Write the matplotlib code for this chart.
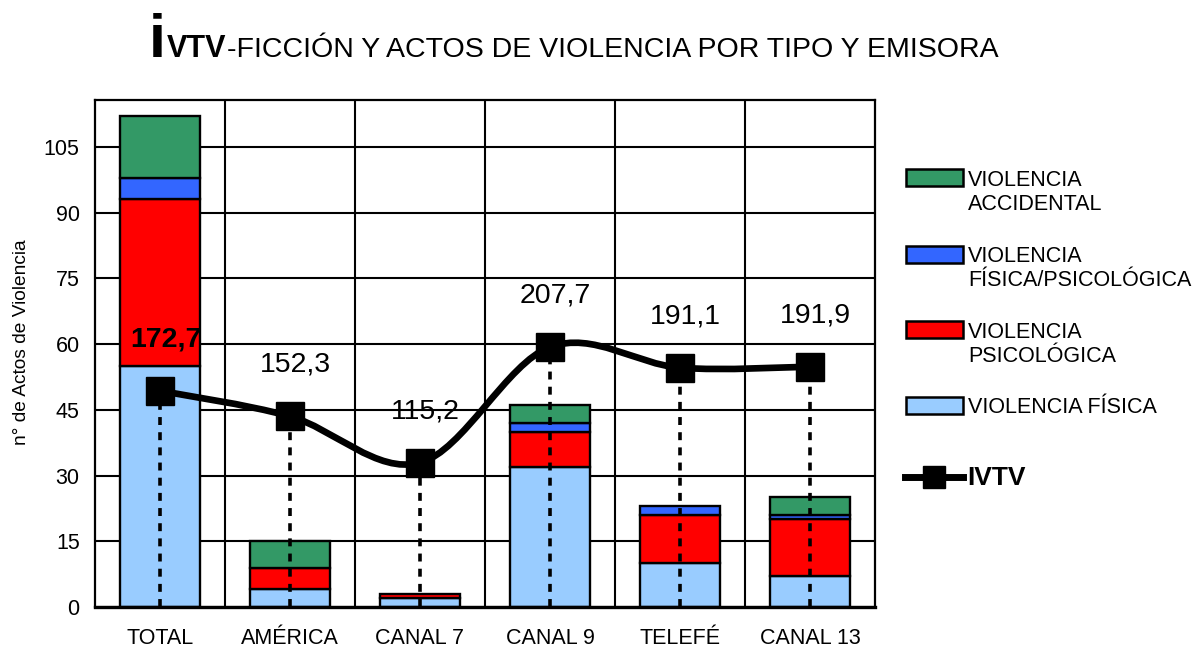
import matplotlib
matplotlib.use("Agg")
import matplotlib.pyplot as plt
from matplotlib.path import Path
from matplotlib.patches import PathPatch, Rectangle
from matplotlib.lines import Line2D
import numpy as np

plt.rcParams['font.family'] = ['Liberation Sans', 'DejaVu Sans']

# datos
emisoras = ['TOTAL', 'AMÉRICA', 'CANAL 7', 'CANAL 9', 'TELEFÉ', 'CANAL 13']
fisica = [55, 4, 2, 32, 10, 7]
psicologica = [38, 5, 1, 8, 11, 13]
fisica_psico = [5, 0, 0, 2, 2, 1]
accidental = [14, 6, 0, 4, 0, 4]
ivtv = [172.7, 152.3, 115.2, 207.7, 191.1, 191.9]
ivtv_labels = ['172,7', '152,3', '115,2', '207,7', '191,1', '191,9']

series = [
    ('VIOLENCIA FÍSICA', fisica, '#99CCFF'),
    ('VIOLENCIA\nPSICOLÓGICA', psicologica, '#FF0000'),
    ('VIOLENCIA\nFÍSICA/PSICOLÓGICA', fisica_psico, '#3366FF'),
    ('VIOLENCIA\nACCIDENTAL', accidental, '#339966'),
]

W, H = 1197, 647
fig = plt.figure(figsize=(W / 100, H / 100), dpi=100)
ax = fig.add_axes([95 / W, 1 - 607 / H, 780 / W, 507 / H])

x = np.arange(len(emisoras))
bottom = np.zeros(len(emisoras))
for name, vals, col in series:
    vals = np.array(vals, dtype=float)
    mask = vals > 0
    ax.bar(x[mask], vals[mask], 0.62, bottom=bottom[mask], color=col,
           edgecolor='black', linewidth=1.7, zorder=2)
    bottom += vals

ymax = 115.7
ax.set_xlim(-0.5, len(emisoras) - 0.5)
ax.set_ylim(0, ymax)
ax.set_yticks(np.arange(0, 106, 15))
ax.set_xticks(x)
ax.set_xticklabels(emisoras)
ax.set_xticks(np.arange(0.5, len(emisoras) - 1), minor=True)
ax.tick_params(axis='both', which='both', length=0, labelsize=15.5)
ax.tick_params(axis='y', pad=11)
ax.tick_params(axis='x', pad=15)
ax.grid(axis='y', which='major', color='black', linewidth=1.5, zorder=0)
ax.grid(axis='x', which='minor', color='black', linewidth=1.5, zorder=0)
ax.set_axisbelow(True)
for s in ax.spines.values():
    s.set_linewidth(1.6)
ax.spines['bottom'].set_linewidth(2.4)
ax.set_ylabel('n° de Actos de Violencia', fontsize=13.8)
ax.yaxis.set_label_coords(-0.083, 0.523)

# eje secundario para el IVTV (escala 3.5x)
ax2 = ax.twinx()
ax2.set_ylim(0, ymax * 3.5)
ax2.set_yticks([])
for s in ax2.spines.values():
    s.set_visible(False)

# lineas de caida punteadas
ax2.vlines(x, 0, ivtv, colors='black', linestyles=(0, (2.2, 2.0)),
           linewidth=2.6, zorder=3)

# linea suavizada (Catmull-Rom -> Bezier)
pts = np.column_stack([x, ivtv]).astype(float)
verts = [tuple(pts[0])]
codes = [Path.MOVETO]
for i in range(len(pts) - 1):
    p0 = pts[i - 1] if i > 0 else pts[i]
    p1 = pts[i]
    p2 = pts[i + 1]
    p3 = pts[i + 2] if i + 2 < len(pts) else pts[i + 1]
    c1 = p1 + (p2 - p0) / 6
    c2 = p2 - (p3 - p1) / 6
    verts += [tuple(c1), tuple(c2), tuple(p2)]
    codes += [Path.CURVE4] * 3
ax2.add_patch(PathPatch(Path(verts, codes), facecolor='none',
                        edgecolor='black', linewidth=4.8, zorder=4,
                        capstyle='round', joinstyle='round'))
ax2.plot(x, ivtv, linestyle='none', marker='s', markersize=20,
         color='black', zorder=5)

for i, (v, lab) in enumerate(zip(ivtv, ivtv_labels)):
    ax2.annotate(lab, (i, v), xytext=(4, 37), textcoords='offset points',
                 ha='center', va='center', fontsize=20.5,
                 fontweight='bold' if i == 0 else 'normal', zorder=6)

# leyenda manual
def fx(px):
    return px / W

def fy(py):
    return 1 - py / H

leg_y = [178, 254, 330, 405]
for (name, vals, col), yy in zip(series[::-1], leg_y):
    fig.add_artist(Rectangle((fx(906), fy(yy + 8.5)), fx(57), 17 / H,
                             facecolor=col, edgecolor='black', linewidth=1.8,
                             transform=fig.transFigure))
    fig.text(fx(968), fy(yy - 8), name, fontsize=15.5, va='top', ha='left',
             linespacing=1.2)

fig.add_artist(Line2D([fx(905), fx(963)], [fy(477), fy(477)], color='black',
                      linewidth=5, transform=fig.transFigure))
fig.add_artist(Line2D([fx(934)], [fy(477)], color='black', marker='s',
                      markersize=16, linestyle='none',
                      transform=fig.transFigure))
fig.text(fx(967), fy(478), 'IVTV', fontsize=19, fontweight='bold',
         va='center', ha='left')

# titulo en partes
base = fy(57)
t1 = fig.text(fx(149), base, 'i', fontsize=44, fontweight='bold',
              va='baseline', ha='left')
fig.canvas.draw()
r = fig.canvas.get_renderer()
x1 = t1.get_window_extent(r).x1
t2 = fig.text(x1 / W + 0.001, base, 'VTV', fontsize=22, fontweight='bold',
              va='baseline', ha='left')
x2 = t2.get_window_extent(r).x1
fig.text(x2 / W, base, '-FICCIÓN Y ACTOS DE VIOLENCIA POR TIPO Y EMISORA',
         fontsize=20.5, va='baseline', ha='left')

fig.savefig('out.png', dpi=100)
